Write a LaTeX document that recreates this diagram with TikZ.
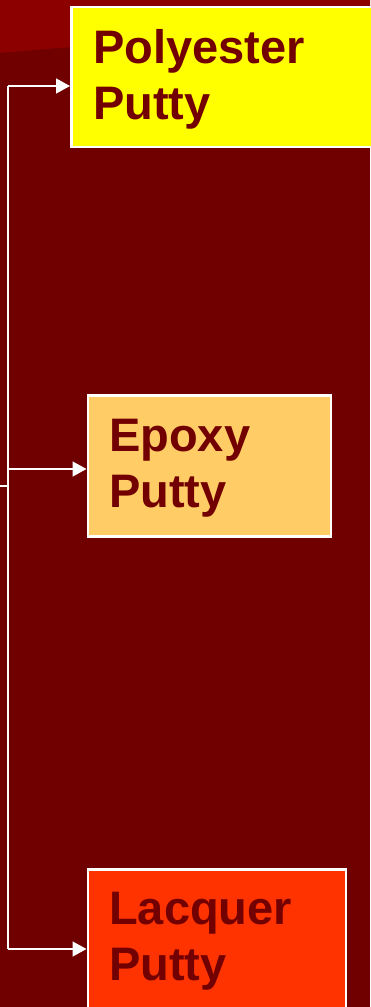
\documentclass[tikz,border=0pt]{standalone}
\usepackage{fontspec}
\setmainfont{Liberation Sans}
\usetikzlibrary{arrows.meta}
\definecolor{bgdark}{HTML}{700000}
\definecolor{bgtop}{HTML}{8C0000}
\definecolor{txt}{HTML}{720000}
\definecolor{polyc}{HTML}{FFFF00}
\definecolor{epoxc}{HTML}{FFCC66}
\definecolor{lacqc}{HTML}{FF3300}
\tikzset{
  box/.style={draw=white, line width=2.5pt, rectangle, inner sep=0pt, anchor=north west},
  lbl/.style={text=txt, font=\fontsize{47}{56}\selectfont\bfseries, align=left, inner sep=0pt, anchor=north west},
  link/.style={draw=white, line width=1.6pt},
  arr/.style={link, -{Triangle[length=14pt,width=15pt]}}
}
\begin{document}
\begin{tikzpicture}[x=1pt,y=-1pt]
\useasboundingbox (0,0) rectangle (370,1007);
\fill[bgdark] (0,0) rectangle (370,1007);
\fill[bgtop] (0,0) -- (370,0) -- (370,32) .. controls (220,36) and (100,44) .. (0,53) -- cycle;
% boxes
\node[box, fill=polyc, minimum width=310pt, minimum height=140pt] (poly) at (70,5.5) {};
\node[box, fill=epoxc, minimum width=243pt, minimum height=141pt] (epox) at (86.5,394) {};
\node[box, fill=lacqc, minimum width=258pt, minimum height=150pt] (lacq) at (86.5,868) {};
% labels
\node[lbl] (polyt) at (93,29) {Polyester\\Putty};
\node[lbl] (epoxt) at (109,419) {Epoxy\\Putty};
\node[lbl] (lacqt) at (109,892) {Lacquer\\Putty};
% connectors
\coordinate (in) at (0,486);
\coordinate (sp) at (8,486);
\coordinate (top) at (8,86);
\coordinate (mid) at (8,469);
\coordinate (bot) at (8,949);
\draw[link] (in) -- (sp);
\draw[link] (top) -- (bot);
\draw[arr] (top) -- (top -| poly.west);
\draw[arr] (mid) -- (mid -| epox.west);
\draw[arr] (bot) -- (bot -| lacq.west);
\end{tikzpicture}
\end{document}
